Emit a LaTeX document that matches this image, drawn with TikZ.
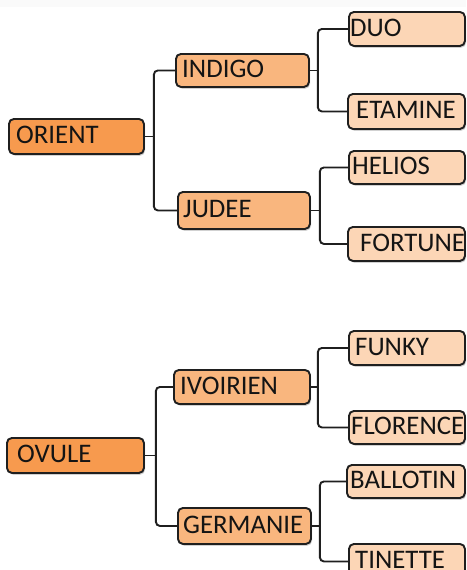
\documentclass[tikz,border=0pt]{standalone}
\usepackage{fontspec}
\setmainfont{Carlito}
\usetikzlibrary{shadows}
\definecolor{rootc}{RGB}{247,154,78}
\definecolor{midc}{RGB}{249,182,126}
\definecolor{leafc}{RGB}{252,214,182}
\definecolor{bandc}{RGB}{250,250,250}
\newcommand\bx[8]{%
  \node[#2, anchor=north west, minimum width={#5-#3}, minimum height={#6-#4}] (#1) at (#3,-#4) {};
  \node[lbl] (#1t) at (#7,{-(#4+#6)/2-8}) {#8};
}
\tikzset{
  boxbase/.style={draw=black!88, line width=1.9pt, rounded corners=5pt, inner sep=0pt,
    drop shadow={shadow xshift=1.2pt, shadow yshift=-1.8pt, fill=black, opacity=0.18}},
  rootbox/.style={boxbase, fill=rootc},
  midbox/.style={boxbase, fill=midc},
  leafbox/.style={boxbase, fill=leafc},
  lbl/.style={anchor=base west, inner sep=0pt, font=\fontsize{26.8}{30}\selectfont, text=black!92},
  conn/.style={draw=black!88, line width=1.9pt, rounded corners=4pt},
}
\begin{document}
\begin{tikzpicture}[x=1pt,y=1pt]
\useasboundingbox (0,0) rectangle (466,-570);
\clip (0,0) rectangle (466,-570);
\fill[bandc] (0,0) rectangle (466,-7);
% boxes
\bx{orient}{rootbox}{8}{118}{143}{153}{16}{ORIENT}
\bx{indigo}{midbox}{175}{53}{308}{86}{182}{INDIGO}
\bx{judee}{midbox}{177}{191}{309}{228}{183}{JUDEE}
\bx{duo}{leafbox}{348}{11}{464}{45}{350}{DUO}
\bx{etamine}{leafbox}{347}{93}{464}{128}{356}{ETAMINE}
\bx{helios}{leafbox}{348}{150}{464}{183}{352}{HELIOS}
\bx{fortune}{leafbox}{347}{226}{464}{260}{360}{FORTUNE}
\bx{ovule}{rootbox}{6}{437}{143}{472}{17}{OVULE}
\bx{ivoirien}{midbox}{173}{369}{309}{403}{180}{IVOIRIEN}
\bx{germanie}{midbox}{177}{507}{310}{543}{183}{GERMANIE}
\bx{funky}{leafbox}{348}{330}{464}{364}{355}{FUNKY}
\bx{florence}{leafbox}{348}{410}{464}{443}{351}{FLORENCE}
\bx{ballotin}{leafbox}{346}{464}{464}{497}{350}{BALLOTIN}
\bx{tinette}{leafbox}{348}{543}{464}{578}{355}{TINETTE}
% junction points
\coordinate (j1) at ([xshift=9pt]orient.east);
\coordinate (j2) at ([xshift=8pt]indigo.east);
\coordinate (j3) at ([xshift=9pt]judee.east);
\coordinate (j4) at ([xshift=11pt]ovule.east);
\coordinate (j5) at ([xshift=7pt]ivoirien.east);
\coordinate (j6) at ([xshift=8pt]germanie.east);
% connectors
\draw[conn] (orient.east) -- (j1);
\draw[conn] (indigo.west) -| (j1) |- (judee.west);
\draw[conn] (indigo.east) -- (j2);
\draw[conn] (duo.west) -| (j2) |- (etamine.west);
\draw[conn] (judee.east) -- (j3);
\draw[conn] (helios.west) -| (j3) |- (fortune.west);
\draw[conn] (ovule.east) -- (j4);
\draw[conn] (ivoirien.west) -| (j4) |- (germanie.west);
\draw[conn] (ivoirien.east) -- (j5);
\draw[conn] (funky.west) -| (j5) |- (florence.west);
\draw[conn] (germanie.east) -- (j6);
\draw[conn] (ballotin.west) -| (j6) |- (tinette.west);
\end{tikzpicture}
\end{document}
